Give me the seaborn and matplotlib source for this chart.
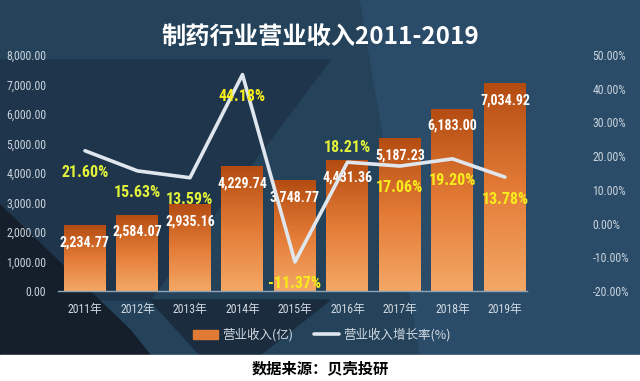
import numpy as np
import pandas as pd
import matplotlib
matplotlib.use("Agg")
import matplotlib.pyplot as plt
from matplotlib import font_manager
from matplotlib.patches import Polygon, Rectangle
from matplotlib.lines import Line2D
import seaborn as sns

years = ["2011年", "2012年", "2013年", "2014年", "2015年", "2016年", "2017年", "2018年", "2019年"]
revenue = [2234.77, 2584.07, 2935.16, 4229.74, 3748.77, 4431.36, 5187.23, 6183.00, 7034.92]
growth = [21.60, 15.63, 13.59, 44.18, -11.37, 18.21, 17.06, 19.20, 13.78]
growth_above = [False, False, False, False, False, True, False, False, False]
left_ticks = [0, 1000, 2000, 3000, 4000, 5000, 6000, 7000, 8000]
right_ticks = [-20, -10, 0, 10, 20, 30, 40, 50]

df = pd.DataFrame({"year": years, "revenue": revenue, "growth": growth})

sns.set_theme(style="white")

installed = {f.name for f in font_manager.fontManager.ttflist}
narrow = next((n for n in ["Roboto Condensed", "Liberation Sans Narrow",
                           "DejaVu Sans Condensed", "Liberation Sans"]
               if n in installed), "DejaVu Sans")
NUM = [narrow, "Noto Sans CJK SC"]
CJK = ["Noto Sans CJK SC", "DejaVu Sans"]
plt.rcParams["font.family"] = CJK
plt.rcParams["axes.unicode_minus"] = False

W, H = 640, 381
fig = plt.figure(figsize=(6.4, 3.81), dpi=100)
fig.patch.set_facecolor("#244259")


def px(points):
    return [(x / W, 1 - y / H) for x, y in points]


# background shapes
fig.add_artist(Polygon(px([(360, 0), (640, 0), (640, 355), (420, 355)]),
                       closed=True, transform=fig.transFigure, color="#2b4c68", zorder=0))
fig.add_artist(Polygon(px([(0, 60), (330, 60), (150, 300), (0, 300)]),
                       closed=True, transform=fig.transFigure, color="#1e354b", zorder=0))
fig.add_artist(Polygon(px([(0, 205), (130, 330), (150, 355), (0, 355)]),
                       closed=True, transform=fig.transFigure, color="#141f2b", zorder=0))
fig.add_artist(Polygon(px([(150, 300), (330, 300), (260, 355), (200, 355)]),
                       closed=True, transform=fig.transFigure, color="#1a2c3e", zorder=0))
fig.add_artist(Rectangle((0, 0), 1, 26 / H, transform=fig.transFigure,
                         color="white", zorder=1))

ax = fig.add_axes([58 / W, 90 / H, 469 / W, 236 / H])
ax.set_facecolor("none")

sns.barplot(data=df, x="year", y="revenue", ax=ax, color="#e07a35", width=0.8,
            saturation=1, zorder=2)

# orange gradient in each bar
grad = np.linspace(0, 1, 256).reshape(-1, 1)
cmap = matplotlib.colors.LinearSegmentedColormap.from_list(
    "bar", ["#f4a866", "#e37b36", "#b44c12"])
for p in ax.patches:
    x0, y0 = p.get_x(), p.get_y()
    w, h = p.get_width(), p.get_height()
    im = ax.imshow(grad, extent=[x0, x0 + w, y0, y0 + h], origin="lower",
                   cmap=cmap, aspect="auto", zorder=2)
    im.set_clip_path(p)
    p.set_facecolor("none")
    p.set_edgecolor("none")

ax.set_xlim(-0.514, 8.42)
ax.set_ylim(0, 8000)
ax.set_yticks(left_ticks)
ax.set_yticklabels([f"{v:,.2f}" for v in left_ticks])
for s in ["top", "right", "left"]:
    ax.spines[s].set_visible(False)
ax.spines["bottom"].set_color("#8ea4b6")
ax.spines["bottom"].set_linewidth(1.0)
ax.tick_params(axis="y", length=0, pad=8.5, labelcolor="#c9d3dc", labelsize=8.5)
ax.tick_params(axis="x", length=0, pad=9, labelcolor="#d2dae2", labelsize=8.5)
for t in ax.get_yticklabels():
    t.set_family(NUM)
for t in ax.get_xticklabels():
    t.set_family(NUM)
ax.set_xlabel("")
ax.set_ylabel("")

for i, v in enumerate(revenue):
    ax.text(i, v - 580, f"{v:,.2f}", ha="center", va="center", color="white",
            fontsize=10, fontweight="bold", family=NUM, zorder=5)

ax2 = ax.twinx()
ax2.set_ylim(-20, 50)
sns.lineplot(x=np.arange(len(years)), y=growth, ax=ax2, color="#dfe6ee",
             linewidth=2.6, zorder=4)
ax2.set_yticks(right_ticks)
ax2.set_yticklabels([f"{v:.2f}%" for v in right_ticks])
ax2.tick_params(axis="y", length=0, pad=47, labelcolor="#c9d3dc", labelsize=8.5)
for t in ax2.get_yticklabels():
    t.set_family(NUM)
for s in ax2.spines.values():
    s.set_visible(False)

for i, g in enumerate(growth):
    off = 4.5 if growth_above[i] else -6.5
    col = "#e2f23a" if i in (0, 1, 2, 5) else "#f7ec1c"
    ax2.text(i, g + off, f"{g:.2f}%", ha="center", va="center", color=col,
             fontsize=11.5, fontweight="bold", family=NUM, zorder=5)

fig.text(0.5, 1 - 37 / H, "制药行业营业收入2011-2019", ha="center", va="center",
         color="white", fontsize=17.5, fontweight="bold",
         family=["Noto Sans CJK SC", "DejaVu Sans"])

handles = [Rectangle((0, 0), 1, 1, color="#e07a35"),
           Line2D([0], [0], color="#dfe6ee", linewidth=2.6)]
leg = fig.legend(handles, ["营业收入(亿)", "营业收入增长率(%)"], loc="center",
                 bbox_to_anchor=(0.503, 1 - 335 / H), ncol=2, frameon=False,
                 handlelength=2.0, handletextpad=0.4, columnspacing=1.6,
                 prop={"family": CJK, "size": 9})
for t in leg.get_texts():
    t.set_color("#d2dae2")

fig.text(0.5, 1 - 368 / H, "数据来源：贝壳投研", ha="center", va="center",
         color="black", fontsize=11, fontweight="bold", family=CJK)

fig.savefig("out.png", dpi=100, facecolor=fig.get_facecolor())
